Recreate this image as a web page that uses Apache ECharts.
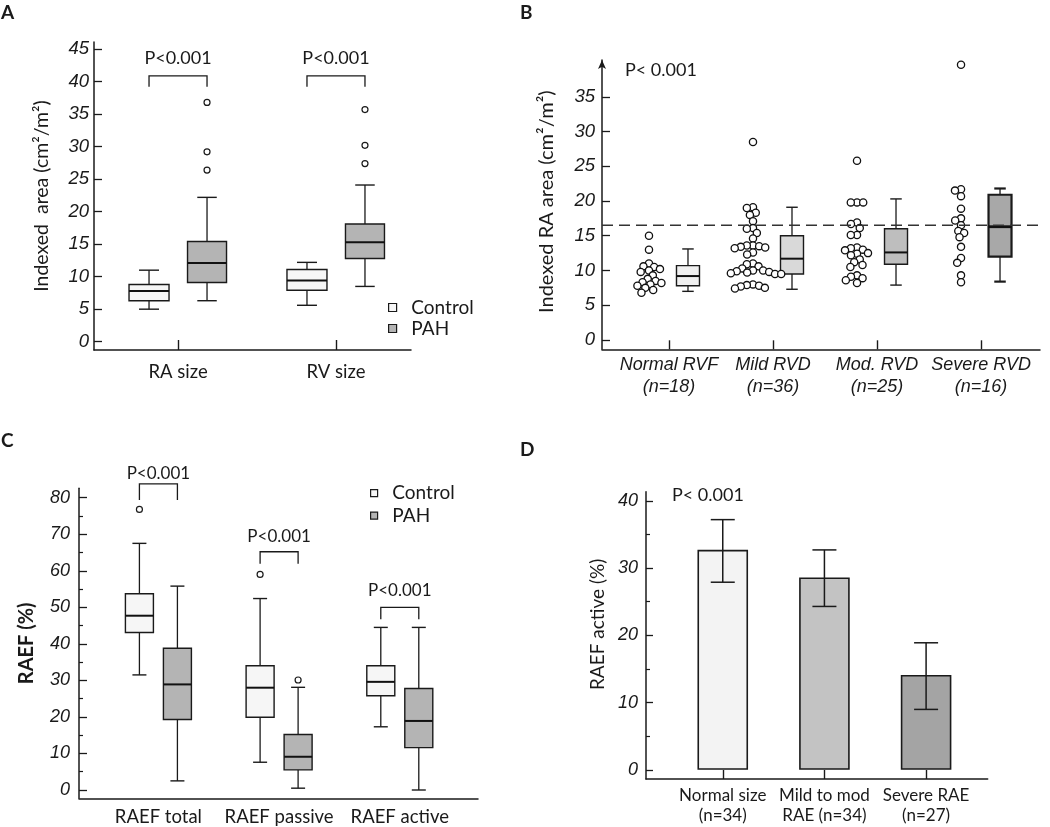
<!DOCTYPE html>
<html><head><meta charset="utf-8">
<script src="https://cdn.jsdelivr.net/npm/echarts@6/dist/echarts.min.js"></script>
<style>html,body{margin:0;padding:0;background:#fff}#c{width:1050px;height:827px}</style>
</head><body><div id="c"></div>
<script>
// ---------------- DATA ----------------
// Panel A : indexed area (box stats: min, Q1, median, Q3, max)
const aCategories = ['RA size', 'RV size'];
const aYTicks = [0, 5, 10, 15, 20, 25, 30, 35, 40, 45];
const aControlBox = [[5.0, 6.3, 7.8, 8.8, 11.0], [5.6, 7.9, 9.4, 11.1, 12.2]];
const aPahBox = [[6.3, 9.1, 12.1, 15.4, 22.2], [8.5, 12.8, 15.3, 18.1, 24.1]];
const aPahOutliers = [[0, 26.4], [0, 29.2], [0, 36.8], [1, 27.4], [1, 30.2], [1, 35.7]];
const aPValues = ['P<0.001', 'P<0.001'];

// Panel B : indexed RA area by RV function
const bCategories = ['Normal RVF\n(n=18)', 'Mild RVD\n(n=36)', 'Mod. RVD\n(n=25)', 'Severe RVD\n(n=16)'];
const bYTicks = [0, 5, 10, 15, 20, 25, 30, 35];
const bNormal = [15.0, 13.0, 11.0, 10.6, 10.5, 10.2, 10.0, 9.8, 9.3, 8.8, 8.5, 8.3, 8.2, 8.0, 7.8, 7.5, 7.2, 6.8];
const bMild = [28.5, 19.1, 19.0, 18.3, 18.0, 17.1, 16.1, 16.0, 15.4, 14.6, 13.6, 13.6, 13.5, 13.4, 13.3, 13.2,
  12.6, 12.3, 11.0, 10.9, 10.6, 10.3, 10.0, 10.0, 9.9, 9.8, 9.7, 9.6, 9.5, 9.5, 8.0, 7.9, 7.8, 7.7, 7.5, 7.4];
const bMod = [25.8, 19.8, 19.8, 19.8, 16.9, 16.7, 16.1, 15.1, 15.1, 13.3, 13.2, 13.0, 12.9, 12.5, 12.4, 12.2,
  11.6, 11.2, 10.8, 10.5, 9.3, 9.1, 8.9, 8.6, 8.2];
const bSevere = [39.6, 21.7, 21.5, 20.7, 18.9, 17.5, 17.2, 16.5, 15.7, 15.4, 14.8, 13.4, 11.8, 11.1, 9.3, 8.3];
const bBoxes = [[7.0, 7.8, 9.2, 10.7, 13.1], [7.3, 9.5, 11.7, 15.0, 19.1], [7.9, 10.9, 12.6, 16.0, 20.3], [8.4, 12.0, 16.3, 20.9, 21.8]];
const bCutoff = 16.5;
const bPValue = 'P< 0.001';

// Panel C : RAEF
const cCategories = ['RAEF total', 'RAEF passive', 'RAEF active'];
const cYTicks = [0, 10, 20, 30, 40, 50, 60, 70, 80];
const cYMinorTicks = [5, 15, 25, 35, 45, 55, 65, 75];
const cControlBox = [[31.5, 43.1, 47.7, 53.7, 67.5], [7.6, 19.9, 28.0, 34.0, 52.4], [17.3, 25.8, 29.6, 34.0, 44.5]];
const cPahBox = [[2.5, 19.3, 28.9, 38.8, 55.8], [0.5, 5.5, 9.1, 15.2, 28.1], [0.0, 11.6, 18.9, 27.8, 44.5]];
const cControlOutliers = [[0, 76.8], [1, 59.0]];
const cPahOutliers = [[1, 30.1]];
const cPValues = ['P<0.001', 'P<0.001', 'P<0.001'];

// Panel D : RAEF active by RA enlargement (mean, error low, error high)
const dCategories = ['Normal size\n(n=34)', 'Mild to mod\nRAE (n=34)', 'Severe RAE\n(n=27)'];
const dYTicks = [0, 10, 20, 30, 40];
const dYMinorTicks = [5, 15, 25, 35];
const dMeans = [32.6, 28.5, 14.0];
const dErrLow = [27.9, 24.3, 9.0];
const dErrHigh = [37.2, 32.7, 18.9];
const dPValue = 'P< 0.001';

// ---------------- STYLE ----------------
const INK = '#1a1a1a';
const SANS = 'Lato, "Open Sans", sans-serif';
const AXF = '"Liberation Sans", Arial, sans-serif';
const CONTROL_FILL = '#f6f6f6';
const PAH_FILL = '#b4b4b4';

function pick(v, i) { return Array.isArray(v) ? v[i] : v; }

function boxSeries(name, gi, stats, offset, width, fill, lw) {
  return {
    type: 'custom', name, xAxisIndex: gi, yAxisIndex: gi, z: 3,
    data: stats.map((s, i) => [i, ...s]),
    encode: { x: 0, y: [1, 2, 3, 4, 5] },
    renderItem(params, api) {
      const i = api.value(0);
      const x = api.coord([i, 0])[0] + offset;
      const Y = k => api.coord([i, api.value(k)])[1];
      const ymin = Y(1), yq1 = Y(2), ymed = Y(3), yq3 = Y(4), ymax = Y(5);
      const w = width, cap = width * 0.5;
      const l = pick(lw, i);
      const st = { stroke: INK, lineWidth: 1.3, fill: null };
      return { type: 'group', children: [
        { type: 'line', shape: { x1: x, y1: ymax, x2: x, y2: yq3 }, style: st },
        { type: 'line', shape: { x1: x, y1: yq1, x2: x, y2: ymin }, style: st },
        { type: 'line', shape: { x1: x - cap / 2, y1: ymax, x2: x + cap / 2, y2: ymax }, style: { stroke: INK, lineWidth: l } },
        { type: 'line', shape: { x1: x - cap / 2, y1: ymin, x2: x + cap / 2, y2: ymin }, style: { stroke: INK, lineWidth: l } },
        { type: 'rect', shape: { x: x - w / 2, y: yq3, width: w, height: yq1 - yq3 }, style: { fill: pick(fill, i), stroke: INK, lineWidth: l } },
        { type: 'line', shape: { x1: x - w / 2, y1: ymed, x2: x + w / 2, y2: ymed }, style: { stroke: '#111', lineWidth: l + 0.6 } }
      ] };
    }
  };
}

function outlierSeries(gi, pts, offset, r) {
  return {
    type: 'custom', xAxisIndex: gi, yAxisIndex: gi, z: 4,
    data: pts, encode: { x: 0, y: 1 },
    renderItem(params, api) {
      const p = api.coord([api.value(0), api.value(1)]);
      return { type: 'circle', shape: { cx: p[0] + offset, cy: p[1], r }, style: { fill: '#fff', stroke: INK, lineWidth: 1.2 } };
    }
  };
}

function bracketSeries(gi, items, offset, texts, fontSize) {
  return {
    type: 'custom', xAxisIndex: gi, yAxisIndex: gi, z: 4,
    data: items, encode: { x: 0, y: [1, 2, 3] },
    renderItem(params, api) {
      const i = api.value(0);
      const x = api.coord([i, 0])[0];
      const yt = api.coord([i, api.value(1)])[1];
      const yl = api.coord([i, api.value(2)])[1];
      const ytx = api.coord([i, api.value(3)])[1];
      return { type: 'group', children: [
        { type: 'polyline', shape: { points: [[x - offset, yl], [x - offset, yt], [x + offset, yt], [x + offset, yl]] },
          style: { stroke: INK, lineWidth: 1.3, fill: null } },
        { type: 'text', x: x, y: ytx, style: { text: texts[params.dataIndex], font: fontSize + 'px ' + SANS, fill: INK, align: 'center', verticalAlign: 'middle' } }
      ] };
    }
  };
}

function swarm(ys, d) {
  const order = ys.map((y, i) => i).sort((a, b) => ys[a] - ys[b]);
  const xs = new Array(ys.length);
  const placed = [];
  for (const i of order) {
    const y = ys[i];
    const near = placed.filter(j => Math.abs(ys[j] - y) < d);
    const cands = [0];
    near.forEach(j => { const w = Math.sqrt(d * d - (ys[j] - y) ** 2); cands.push(xs[j] - w, xs[j] + w); });
    cands.sort((a, b) => (Math.abs(a) - Math.abs(b)) || (a - b));
    for (const c of cands) {
      if (near.every(j => Math.abs(c - xs[j]) >= Math.sqrt(d * d - (ys[j] - y) ** 2) - 1e-6)) { xs[i] = c; break; }
    }
    placed.push(i);
  }
  return xs;
}

const bGroups = [bNormal, bMild, bMod, bSevere];
const bPoints = [];
bGroups.forEach((g, gi) => g.forEach((v, k) => bPoints.push([gi, v, k])));
const swarmCache = {};

function yAxisBase(gi, min, max, ticks, tickLen, margin, fs) {
  return {
    gridIndex: gi, type: 'value', min, max, position: 'left',
    axisLine: { show: true, onZero: false, lineStyle: { color: INK, width: 1.5 } },
    axisTick: { show: true, inside: true, length: tickLen, customValues: ticks, lineStyle: { color: INK, width: 1.3 } },
    axisLabel: { show: true, customValues: ticks, margin, fontFamily: AXF, fontStyle: 'italic', fontSize: fs, color: INK },
    splitLine: { show: false }
  };
}
function minorAxis(gi, min, max, ticks) {
  return {
    gridIndex: gi, type: 'value', min, max, position: 'left',
    axisLine: { show: false, onZero: false },
    axisTick: { show: true, inside: true, length: 4, customValues: ticks, lineStyle: { color: INK, width: 1.2 } },
    axisLabel: { show: false }, splitLine: { show: false }
  };
}
function xAxisBase(gi, min, max, cats, tickLen, margin, font, extra) {
  const idx = cats.map((c, i) => i);
  return Object.assign({
    gridIndex: gi, type: 'value', min, max,
    axisLine: { show: true, onZero: false, lineStyle: { color: INK, width: 1.5 } },
    axisTick: { show: tickLen > 0, inside: true, length: tickLen, customValues: idx, lineStyle: { color: INK, width: 1.4 } },
    axisLabel: Object.assign({ show: true, customValues: idx, margin, formatter: v => cats[Math.round(v)], color: INK }, font),
    splitLine: { show: false }
  }, extra || {});
}

const yA = yAxisBase(0, -1.28, 46.1, aYTicks, 8, 5, 18.5);
Object.assign(yA, { name: 'Indexed  area (cm²/m²)', nameLocation: 'middle', nameGap: 42, nameRotate: 90,
  nameTextStyle: { fontFamily: SANS, fontSize: 19.5, color: INK } });
const yB = yAxisBase(1, -1.34, 40.29, bYTicks, 8, 7, 18.5);
Object.assign(yB, { name: 'Indexed RA area (cm²/m²)', nameLocation: 'middle', nameGap: 45, nameRotate: 90,
  nameTextStyle: { fontFamily: SANS, fontSize: 20, color: INK, padding: [0, 0, 0, 6] } });
yB.axisLine.symbol = ['none', 'arrow'];
yB.axisLine.symbolSize = [6, 9];
const yC = yAxisBase(2, -2.27, 82.57, cYTicks, 8, 9, 18);
Object.assign(yC, { name: 'RAEF (%)', nameLocation: 'middle', nameGap: 42, nameRotate: 90,
  nameTextStyle: { fontFamily: SANS, fontSize: 20, fontWeight: 'bold', color: INK } });
const yD = yAxisBase(3, -1.34, 41.35, dYTicks, 7, 8, 18);
Object.assign(yD, { name: 'RAEF active (%)', nameLocation: 'middle', nameGap: 39, nameRotate: 90,
  nameTextStyle: { fontFamily: SANS, fontSize: 19, color: INK, padding: [0, 0, 0, 22] } });

const option = {
  animation: false,
  backgroundColor: '#fff',
  grid: [
    { left: 94, top: 42, width: 317, height: 308 },
    { left: 602, top: 60, width: 438, height: 289.3 },
    { left: 79, top: 488.3, width: 399, height: 310 },
    { left: 646, top: 491.7, width: 341.7, height: 287.3 }
  ],
  xAxis: [
    xAxisBase(0, -0.532, 1.475, aCategories, 10, 13, { fontFamily: SANS, fontSize: 18.5 }),
    xAxisBase(1, -0.644, 3.567, bCategories, 9, 5, { fontFamily: AXF, fontStyle: 'italic', fontSize: 18, lineHeight: 22 }),
    xAxisBase(2, -0.658, 2.648, cCategories, 0, 9, { fontFamily: SANS, fontSize: 18.5 }),
    xAxisBase(3, -0.755, 2.606, dCategories, 9, 7, { fontFamily: SANS, fontSize: 17, lineHeight: 20 })
  ],
  yAxis: [yA, yB, yC, yD, minorAxis(2, -2.27, 82.57, cYMinorTicks), minorAxis(3, -1.34, 41.35, dYMinorTicks)],
  legend: [
    { left: 383, top: 292, orient: 'vertical', itemGap: 0, itemWidth: 8, itemHeight: 8, selectedMode: false,
      formatter: n => '  ' + n, textStyle: { fontFamily: SANS, fontSize: 19, lineHeight: 21, color: INK },
      data: [ { name: 'Control', icon: 'rect', itemStyle: { color: CONTROL_FILL, borderColor: INK, borderWidth: 1.2 } },
              { name: 'PAH', icon: 'rect', itemStyle: { color: PAH_FILL, borderColor: INK, borderWidth: 1.2 } } ] },
    { left: 365, top: 477, orient: 'vertical', itemGap: 0, itemWidth: 7, itemHeight: 7, selectedMode: false,
      formatter: n => '  ' + n, textStyle: { fontFamily: SANS, fontSize: 19, lineHeight: 22.4, color: INK },
      data: [ { name: 'Control', icon: 'rect', itemStyle: { color: CONTROL_FILL, borderColor: INK, borderWidth: 1.2 } },
              { name: 'PAH', icon: 'rect', itemStyle: { color: PAH_FILL, borderColor: INK, borderWidth: 1.2 } } ] }
  ],
  graphic: [
    { type: 'text', x: 1, y: 3, style: { text: 'A', font: 'bold 19px ' + SANS, fill: INK } },
    { type: 'text', x: 520, y: 3, style: { text: 'B', font: 'bold 19px ' + SANS, fill: INK } },
    { type: 'text', x: 1, y: 431, style: { text: 'C', font: 'bold 19px ' + SANS, fill: INK } },
    { type: 'text', x: 520, y: 440, style: { text: 'D', font: 'bold 19px ' + SANS, fill: INK } },
    { type: 'text', x: 625, y: 70, style: { text: bPValue, font: '18px ' + SANS, fill: INK, verticalAlign: 'middle' } },
    { type: 'text', x: 672, y: 495, style: { text: dPValue, font: '18px ' + SANS, fill: INK, verticalAlign: 'middle' } }
  ],
  series: [
    // Panel A
    boxSeries('Control', 0, aControlBox, -29, 40, CONTROL_FILL, 1.4),
    boxSeries('PAH', 0, aPahBox, 29, 39, PAH_FILL, 1.4),
    outlierSeries(0, aPahOutliers, 29, 3),
    bracketSeries(0, [[0, 40.9, 39.2, 43.6], [1, 40.9, 39.2, 43.6]], 29, aPValues, 18),
    // Panel B
    boxSeries('B boxes', 1, bBoxes, 19, 23, ['#f0f0f0', '#d9d9d9', '#bebebe', '#a8a8a8'], [1.4, 1.4, 1.4, 2.2]),
    {
      type: 'custom', xAxisIndex: 1, yAxisIndex: 1, z: 4,
      data: bPoints, encode: { x: 0, y: 1 },
      renderItem(params, api) {
        const gi = api.value(0), k = api.value(2);
        if (!swarmCache[gi]) swarmCache[gi] = swarm(bGroups[gi].map(v => api.coord([gi, v])[1]), 6.2);
        const base = api.coord([gi, api.value(1)]);
        return { type: 'circle', shape: { cx: base[0] - 20 + swarmCache[gi][k], cy: base[1], r: 3.6 },
          style: { fill: '#fff', stroke: '#111', lineWidth: 1.3 } };
      }
    },
    {
      type: 'custom', xAxisIndex: 1, yAxisIndex: 1, z: 5,
      data: [[0, bCutoff]], encode: { x: 0, y: 1 },
      renderItem(params, api) {
        const cs = params.coordSys;
        const y = api.coord([0, api.value(1)])[1];
        return { type: 'line', shape: { x1: cs.x, y1: y, x2: cs.x + cs.width, y2: y },
          style: { stroke: '#333', lineWidth: 1.4, lineDash: [11, 6] } };
      }
    },
    // Panel C
    boxSeries('Control', 2, cControlBox, -19, 28, CONTROL_FILL, 1.4),
    boxSeries('PAH', 2, cPahBox, 19, 28, PAH_FILL, 1.4),
    outlierSeries(2, cControlOutliers, -19, 3),
    outlierSeries(2, cPahOutliers, 19, 3),
    bracketSeries(2, [[0, 83.8, 79.4, 86.7], [1, 65.2, 61.9, 69.5], [2, 50.0, 46.7, 54.7]], 19, cPValues, 17),
    // Panel D
    {
      type: 'custom', xAxisIndex: 3, yAxisIndex: 3, z: 3,
      data: dMeans.map((m, i) => [i, m, dErrLow[i], dErrHigh[i]]), encode: { x: 0, y: [1, 2, 3] },
      renderItem(params, api) {
        const i = api.value(0);
        const p0 = api.coord([i, 0]);
        const x = p0[0];
        const yTop = api.coord([i, api.value(1)])[1];
        const yLo = api.coord([i, api.value(2)])[1];
        const yHi = api.coord([i, api.value(3)])[1];
        const fills = ['#f3f3f3', '#c3c3c3', '#a4a4a4'];
        const bw = 49, cw = 24;
        const st = { stroke: INK, lineWidth: 1.5 };
        return { type: 'group', children: [
          { type: 'rect', shape: { x: x - bw / 2, y: yTop, width: bw, height: p0[1] - yTop - 1 }, style: { fill: fills[i], stroke: INK, lineWidth: 1.6 } },
          { type: 'line', shape: { x1: x, y1: yHi, x2: x, y2: yLo }, style: st },
          { type: 'line', shape: { x1: x - cw / 2, y1: yHi, x2: x + cw / 2, y2: yHi }, style: st },
          { type: 'line', shape: { x1: x - cw / 2, y1: yLo, x2: x + cw / 2, y2: yLo }, style: st }
        ] };
      }
    }
  ]
};

const chart = echarts.init(document.getElementById('c'));
chart.setOption(option);
</script>
</body></html>
